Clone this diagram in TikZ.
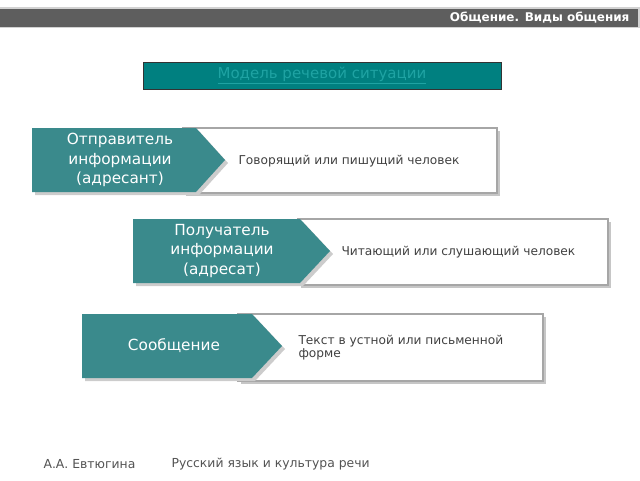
\documentclass[tikz,border=0pt]{standalone}
\usepackage{fontspec}
\setmainfont{DejaVu Sans}
\usetikzlibrary{calc}
\definecolor{teal1}{HTML}{3A8A8C}
\definecolor{tealhead}{HTML}{008080}
\definecolor{headgray}{HTML}{5E5E5E}
\definecolor{txtgray}{HTML}{404040}
\definecolor{titletxt}{HTML}{1FA3A3}
\tikzset{
  arrowshape/.style={fill=teal1},
  descbox/.style={draw=gray!70, line width=1.4pt, fill=white},
  shadowbox/.style={fill=gray!45},
  bigtxt/.style={text=white, font=\fontsize{15.3}{19.5}\selectfont, align=center},
  smalltxt/.style={text=txtgray, font=\fontsize{12.2}{13}\selectfont, anchor=west, align=left},
  foot/.style={text=txtgray!90, font=\fontsize{12.4}{14}\selectfont, anchor=west}
}
\begin{document}
\begin{tikzpicture}[x=1pt,y=-1pt]
\useasboundingbox (0,0) rectangle (640,480);
% header bar
\fill[gray!35] (0,7) rectangle (640,28);
\fill[headgray] (0,9) rectangle (638,26.5);
\node[anchor=east, text=white, font=\bfseries\fontsize{12}{14}\selectfont] (hdr) at (633,18) {Общение. Виды общения};
% title box
\node[draw=black!80, line width=1pt, fill=tealhead, minimum width=358pt, minimum height=27pt, inner sep=0pt,
  text=titletxt, font=\fontsize{15}{17}\selectfont] (title) at (322,75.5) {\underline{Модель речевой ситуации}};

% row 1
\fill[shadowbox] (186,131) rectangle (500,196);
\node[descbox, minimum width=314pt, minimum height=65pt, inner sep=0pt] (b1) at (340,160.5) {};
\fill[gray!40] (35,131) -- (199,131) -- (228,163) -- (199,195) -- (35,195) -- cycle;
\fill[arrowshape] (32,128) -- (196,128) -- (225,160) -- (196,192) -- (32,192) -- cycle;
\node[bigtxt] (a1) at (120,160) {Отправитель\\информации\\(адресант)};
\node[smalltxt] (t1) at (235,161) {Говорящий или пишущий человек};

% row 2
\fill[shadowbox] (301,222) rectangle (611,288);
\node[descbox, minimum width=310pt, minimum height=66pt, inner sep=0pt] (b2) at (453,252) {};
\fill[gray!40] (136,222) -- (303,222) -- (333,254) -- (303,286) -- (136,286) -- cycle;
\fill[arrowshape] (133,219) -- (300,219) -- (330,251) -- (300,283) -- (133,283) -- cycle;
\node[bigtxt] (a2) at (222,251) {Получатель\\информации\\(адресат)};
\node[smalltxt] (t2) at (338,252) {Читающий или слушающий человек};

% row 3
\fill[shadowbox] (241,317) rectangle (546,384);
\node[descbox, minimum width=305pt, minimum height=67pt, inner sep=0pt] (b3) at (390.5,347.5) {};
\fill[gray!40] (85,317) -- (255,317) -- (285,349) -- (255,381) -- (85,381) -- cycle;
\fill[arrowshape] (82,314) -- (252,314) -- (282,346) -- (252,378) -- (82,378) -- cycle;
\node[bigtxt] (a3) at (174,346) {Сообщение};
\node[smalltxt, font=\fontsize{12.2}{13}\selectfont] (t3) at (295,348) {Текст в устной или письменной\\форме};

% footer
\node[foot] (f1) at (40,464) {А.А. Евтюгина};
\node[foot] (f2) at (168,464) {Русский язык и культура речи};
\end{tikzpicture}
\end{document}
